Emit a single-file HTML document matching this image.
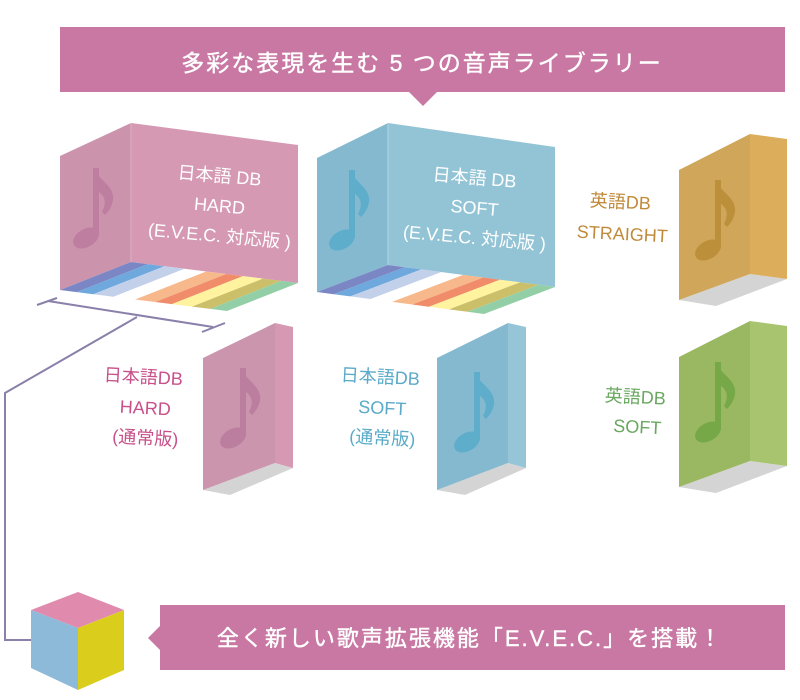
<!DOCTYPE html>
<html><head><meta charset="utf-8"><style>
html,body{margin:0;padding:0;background:#fff}
svg{display:block}
text{font-family:"Liberation Sans","Noto Sans CJK JP",sans-serif}
</style></head><body>
<svg width="800" height="700" viewBox="0 0 800 700" xmlns="http://www.w3.org/2000/svg">
<defs>
<g id="note">
<rect x="21" y="0" width="6" height="68"/>
<ellipse cx="14" cy="70" rx="14" ry="9" transform="rotate(-30 14 70)"/>
<path d="M22,0 C26,12 43,18 41,32 C40,39 36,44 33,47 L30,44 C34,36 35,28 24,22 Z"/>
</g>
</defs>
<polygon points="60,27 785,27 785,92 437,92 423,106 409,92 60,92" fill="#c878a3"/>
<text x="422" y="71" font-size="23" fill="#fff" text-anchor="middle" letter-spacing="2" stroke="#fff" stroke-width="0.4">多彩な表現を生む 5 つの音声ライブラリー</text>

<polygon points="60,156 131,123 131,262 60,290" fill="#cc93ad"/>
<polygon points="131,123 298,145 298,283 131,262" fill="#d699b3"/>
<line x1="131" y1="123" x2="131" y2="262" stroke="#e0b0c4" stroke-width="1"/>
<use href="#note" transform="translate(72,168)" fill="#bd7ea0"/>
<g fill="#fff" font-size="18" text-anchor="middle">
<text x="219" y="182" transform="rotate(5 219 182)">日本語 DB</text>
<text x="219" y="212" transform="rotate(5 219 212)">HARD</text>
<text x="219" y="242" transform="rotate(5 219 242)">(E.V.E.C. 対応版 )</text>
</g>
<g transform="matrix(167 21 -71 28 131 262)">
<rect x="0" y="0" width="0.1" height="1" fill="#7b86c4"/>
<rect x="0.1" y="0" width="0.1" height="1" fill="#6fa8dc"/>
<rect x="0.2" y="0" width="0.12" height="1" fill="#c3d0ea"/>
<rect x="0.45" y="0" width="0.12" height="1" fill="#f7b98c"/>
<rect x="0.57" y="0" width="0.1" height="1" fill="#f08c6a"/>
<rect x="0.67" y="0" width="0.12" height="1" fill="#fff3a0"/>
<rect x="0.79" y="0" width="0.11" height="1" fill="#cbbf6a"/>
<rect x="0.9" y="0" width="0.1" height="1" fill="#93cfa6"/>
</g>

<polygon points="317,158 388,123 388,265 317,292" fill="#84b9d0"/>
<polygon points="388,123 555,147 555,287 388,265" fill="#93c4d6"/>
<line x1="388" y1="123" x2="388" y2="265" stroke="#b0d6e4" stroke-width="1"/>
<use href="#note" transform="translate(328,170)" fill="#5eaecb"/>
<g fill="#fff" font-size="18" text-anchor="middle">
<text x="474" y="184" transform="rotate(5 474 184)">日本語 DB</text>
<text x="474" y="214" transform="rotate(5 474 214)">SOFT</text>
<text x="474" y="244" transform="rotate(5 474 244)">(E.V.E.C. 対応版 )</text>
</g>
<g transform="matrix(167 22 -71 27 388 265)">
<rect x="0" y="0" width="0.1" height="1" fill="#7b86c4"/>
<rect x="0.1" y="0" width="0.1" height="1" fill="#6fa8dc"/>
<rect x="0.2" y="0" width="0.12" height="1" fill="#c3d0ea"/>
<rect x="0.45" y="0" width="0.12" height="1" fill="#f7b98c"/>
<rect x="0.57" y="0" width="0.1" height="1" fill="#f08c6a"/>
<rect x="0.67" y="0" width="0.12" height="1" fill="#fff3a0"/>
<rect x="0.79" y="0" width="0.11" height="1" fill="#cbbf6a"/>
<rect x="0.9" y="0" width="0.1" height="1" fill="#93cfa6"/>
</g>

<polygon points="679,300 750,274 787,279 716,306" fill="#d4d4d4"/>
<polygon points="679,170 750,134 750,274 679,300" fill="#d0a65a"/>
<polygon points="750,134 787,139 787,279 750,274" fill="#dcae5c"/>
<use href="#note" transform="translate(694,180)" fill="#bc8f3a"/>
<g fill="#c08a3a" font-size="18" text-anchor="middle">
<text x="620" y="208" transform="rotate(3 620 208)">英語DB</text>
<text x="622" y="240" transform="rotate(3 622 240)">STRAIGHT</text>
</g>

<polygon points="679,487 750,461 787,466 716,493" fill="#d4d4d4"/>
<polygon points="679,357 750,321 750,461 679,487" fill="#9ab862"/>
<polygon points="750,321 787,326 787,466 750,461" fill="#a8c46e"/>
<use href="#note" transform="translate(694,362)" fill="#76a848"/>
<g fill="#6aa860" font-size="18" text-anchor="middle">
<text x="635" y="403" transform="rotate(3 635 403)">英語DB</text>
<text x="637" y="433" transform="rotate(3 637 433)">SOFT</text>
</g>

<polygon points="203,490 275,463 293,468 230,495" fill="#d4d4d4"/>
<polygon points="203,358 275,323 275,463 203,490" fill="#cb95ae"/>
<polygon points="275,323 293,327 293,468 275,463" fill="#d699b3"/>
<use href="#note" transform="translate(219,368)" fill="#bc7e9e"/>
<g fill="#c8508a" font-size="18" text-anchor="middle">
<text x="143" y="383" transform="rotate(3 143 383)">日本語DB</text>
<text x="145" y="414" transform="rotate(3 145 414)">HARD</text>
<text x="145" y="444" transform="rotate(3 145 444)">(通常版)</text>
</g>

<polygon points="437,490 508,463 526,468 465,495" fill="#d4d4d4"/>
<polygon points="437,358 508,323 508,463 437,490" fill="#84b9d0"/>
<polygon points="508,323 526,327 526,468 508,463" fill="#96c5d7"/>
<use href="#note" transform="translate(453,372)" fill="#5eaecb"/>
<g fill="#5aaac8" font-size="18" text-anchor="middle">
<text x="380" y="383" transform="rotate(3 380 383)">日本語DB</text>
<text x="382" y="414" transform="rotate(3 382 414)">SOFT</text>
<text x="382" y="444" transform="rotate(3 382 444)">(通常版)</text>
</g>

<g stroke="#8a80aa" stroke-width="2" fill="none">
<line x1="48" y1="301" x2="213" y2="327"/>
<line x1="37" y1="305" x2="57" y2="298"/>
<line x1="202" y1="332" x2="225" y2="323"/>
<polyline points="137,317 5,393 5,640 31,640"/>
</g>

<polygon points="78,592 124,610 78,628 31,610" fill="#e08aae"/>
<polygon points="31,610 78,628 78,690 31,668" fill="#8ebad9"/>
<polygon points="78,628 124,610 124,670 78,690" fill="#dacd1c"/>

<polygon points="160,605 785,605 785,670 160,670 160,650 148,638 160,626" fill="#c878a3"/>
<text x="470" y="646" font-size="22" fill="#fff" text-anchor="middle" letter-spacing="2" stroke="#fff" stroke-width="0.4">全く新しい歌声拡張機能「E.V.E.C.」を搭載！</text>
</svg>
</body></html>
